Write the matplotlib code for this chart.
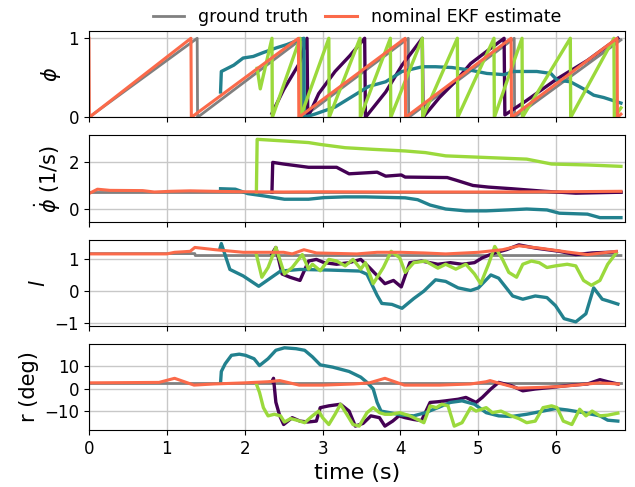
import matplotlib
matplotlib.use("Agg")
import matplotlib.pyplot as plt

# colours
c_gt = "#808080"
c_ekf = "#fb6a4a"
c_pur = "#440154"
c_teal = "#22818e"
c_grn = "#9bd93c"

# ---- phase phi ----
gt_phi_t = [0, 1.39, 1.395, 2.74, 2.745, 4.10, 4.105, 5.46, 5.465, 6.83]
gt_phi = [0, 1.0, 0.0, 1.0, 0.0, 1.0, 0.0, 1.0, 0.0, 0.98]
ekf_phi_t = [0, 0.005, 1.31, 1.315, 2.69, 2.695, 4.06, 4.065, 5.42, 5.425, 6.78, 6.785, 6.83]
ekf_phi = [1.0, 0.0, 1.0, 0.0, 1.0, 0.0, 1.0, 0.0, 1.0, 0.0, 1.0, 0.0, 0.04]
pur_phi_t = [2.35, 2.5, 2.7, 2.80, 2.81, 2.95, 3.16, 3.35, 3.54, 3.55, 3.81, 4.02, 4.28, 4.29,
             4.5, 4.7, 4.9, 5.1, 5.33, 5.34, 5.6, 6.0, 6.4, 6.79]
pur_phi = [0.05, 0.35, 0.68, 1.0, 0.0, 0.3, 0.58, 0.78, 1.0, 0.0, 0.32, 0.66, 1.0, 0.0,
           0.25, 0.45, 0.68, 0.83, 1.0, 0.03, 0.2, 0.48, 0.72, 1.0]
teal_phi_t = [1.69, 1.70, 1.86, 1.98, 2.11, 2.24, 2.41, 2.54, 2.67, 2.76, 2.765, 2.9, 3.16, 3.59,
              3.81, 4.02, 4.28, 4.45, 4.66, 4.88, 5.11, 5.33, 5.45, 5.75, 5.93, 6.01, 6.18,
              6.35, 6.48, 6.61, 6.83]
teal_phi = [0.32, 0.58, 0.66, 0.75, 0.77, 0.82, 0.88, 0.92, 0.97, 1.0, 0.0, 0.04, 0.13, 0.39,
            0.45, 0.58, 0.64, 0.64, 0.63, 0.60, 0.555, 0.54, 0.58, 0.58, 0.555, 0.47, 0.45,
            0.36, 0.28, 0.25, 0.18]
grn_phi_t = [2.16, 2.20, 2.35, 2.355, 2.71, 2.715, 3.08, 3.085, 3.48, 3.485, 3.87, 3.875,
             4.28, 4.285, 4.73, 4.735, 5.20, 5.205, 5.56, 5.565, 6.18, 6.185, 6.74, 6.745, 6.83]
grn_phi = [0.62, 0.36, 1.0, 0.0, 1.0, 0.0, 1.0, 0.0, 1.0, 0.0, 1.0, 0.0,
           1.0, 0.0, 1.0, 0.0, 1.0, 0.0, 1.0, 0.0, 1.0, 0.0, 1.0, 0.0, 0.12]

# ---- phase rate ----
gt_dphi_t = [0, 6.83]
gt_dphi = [0.72, 0.72]
ekf_dphi_t = [0, 0.11, 0.27, 0.69, 0.84, 1.05, 1.3, 1.6, 2.0, 2.5, 3.0, 4.0, 5.0, 6.0, 6.83]
ekf_dphi = [0.66, 0.85, 0.80, 0.79, 0.73, 0.76, 0.78, 0.76, 0.74, 0.73, 0.74, 0.73, 0.73, 0.74, 0.76]
pur_dphi_t = [2.35, 2.36, 2.5, 2.66, 2.82, 3.18, 3.34, 3.70, 3.81, 4.01, 4.06, 4.6, 4.72, 4.93,
              5.13, 5.43, 5.85, 6.25, 6.83]
pur_dphi = [0.73, 2.0, 1.93, 1.86, 1.79, 1.79, 1.51, 1.58, 1.41, 1.46, 1.37, 1.35, 1.23, 1.01,
            0.94, 0.87, 0.76, 0.68, 0.72]
teal_dphi_t = [1.69, 1.88, 2.04, 2.25, 2.51, 2.82, 3.02, 3.28, 3.55, 4.06, 4.22, 4.38, 4.58,
               4.84, 5.1, 5.37, 5.62, 5.88, 6.04, 6.4, 6.56, 6.83]
teal_dphi = [0.87, 0.85, 0.66, 0.56, 0.42, 0.42, 0.49, 0.52, 0.52, 0.48, 0.40, 0.17, 0.0,
             -0.08, -0.08, -0.04, 0.0, -0.04, -0.18, -0.22, -0.37, -0.37]
grn_dphi_t = [2.15, 2.16, 2.5, 2.82, 2.97, 3.29, 3.65, 4.06, 4.32, 4.58, 5.1, 5.62, 5.94, 6.4, 6.83]
grn_dphi = [0.73, 2.99, 2.92, 2.85, 2.77, 2.63, 2.56, 2.49, 2.42, 2.28, 2.21, 2.14, 1.93, 1.89, 1.83]

# ---- l ----
gt_l_t = [0, 1.36, 1.365, 6.83]
gt_l = [1.16, 1.16, 1.10, 1.10]
ekf_l_t = [0, 1.0, 1.1, 1.3, 1.36, 1.62, 1.98, 2.5, 2.61, 2.76, 2.92, 3.44, 3.7, 4.0, 4.3,
           4.58, 5.0, 5.31, 5.52, 5.78, 6.14, 6.4, 6.77]
ekf_l = [1.15, 1.15, 1.2, 1.23, 1.35, 1.28, 1.2, 1.2, 1.15, 1.28, 1.18, 1.15, 1.2, 1.2, 1.18,
         1.15, 1.2, 1.28, 1.4, 1.33, 1.21, 1.13, 1.23]
teal_l_t = [1.68, 1.70, 1.81, 1.98, 2.18, 2.46, 2.71, 3.1, 3.48, 3.57, 3.70, 3.76, 3.89, 4.02,
            4.17, 4.30, 4.45, 4.58, 4.74, 4.90, 5.0, 5.16, 5.26, 5.44, 5.57, 5.73, 5.88, 5.99,
            6.1, 6.25, 6.38, 6.48, 6.59, 6.66, 6.79]
teal_l = [1.3, 1.47, 0.67, 0.47, 0.15, 0.62, 0.67, 0.65, 0.62, 0.52, -0.13, -0.38, -0.41, -0.53,
          -0.23, 0.0, 0.35, 0.3, 0.1, 0.02, 0.1, 0.5, 0.4, -0.15, -0.25, -0.15, -0.2, -0.45,
          -0.85, -0.95, -0.7, 0.1, -0.25, -0.3, -0.4]
grn_l_t = [2.15, 2.22, 2.30, 2.40, 2.51, 2.61, 2.74, 2.82, 2.87, 2.97, 3.08, 3.18, 3.29, 3.39,
           3.49, 3.55, 3.65, 3.78, 3.88, 3.99, 4.06, 4.17, 4.32, 4.48, 4.58, 4.71, 4.84, 4.95,
           5.03, 5.13, 5.21, 5.31, 5.39, 5.49, 5.57, 5.68, 5.78, 5.88, 5.99, 6.14, 6.25, 6.35,
           6.45, 6.56, 6.66, 6.77]
grn_l = [1.13, 0.43, 0.73, 1.35, 0.53, 0.73, 1.13, 0.68, 0.83, 0.63, 0.98, 0.93, 0.78, 0.98,
         0.68, 0.88, 0.23, 0.73, 1.23, 1.03, 0.58, 0.88, 0.93, 0.71, 0.83, 0.68, 0.83, 0.53,
         0.23, 0.83, 1.38, 0.98, 0.58, 0.43, 0.83, 0.93, 0.88, 0.73, 0.78, 0.83, 0.78, 0.33,
         0.18, 0.33, 0.83, 1.18]
pur_l_t = [2.35, 2.40, 2.48, 2.58, 2.71, 2.82, 2.92, 3.02, 3.18, 3.34, 3.49, 3.60, 3.70, 3.80,
           3.91, 4.01, 4.12, 4.27, 4.48, 4.64, 4.79, 4.95, 5.05, 5.21, 5.36, 5.52, 5.73, 6.04,
           6.25, 6.46, 6.77]
pur_l = [1.15, 1.35, 0.53, 0.43, 0.33, 0.93, 0.98, 0.88, 0.83, 0.88, 0.98, 0.73, 0.48, 0.23,
         0.33, 0.13, 0.88, 0.93, 0.83, 0.88, 0.83, 0.88, 1.03, 1.18, 1.28, 1.43, 1.33, 1.23,
         1.13, 1.18, 1.21]

# ---- r (deg) ----
gt_r_t = [0, 6.83]
gt_r = [2.6, 2.6]
ekf_r_t = [0, 0.9, 1.1, 1.35, 1.6, 2.0, 2.3, 2.45, 2.7, 3.0, 3.4, 3.6, 3.8, 4.05, 4.5, 4.9,
           5.1, 5.15, 5.25, 5.5, 5.8, 6.1, 6.4, 6.55, 6.8]
ekf_r = [2.5, 2.7, 4.5, 1.5, 2.0, 2.5, 3.0, 3.5, 1.5, 1.5, 2.0, 2.5, 4.5, 1.5, 1.5, 2.0,
         3.0, 3.5, 2.5, 0.2, 0.5, 1.0, 2.0, 2.5, 2.0]
pur_r_t = [2.35, 2.37, 2.40, 2.45, 2.50, 2.61, 2.71, 2.81, 2.92, 2.97, 3.08, 3.23, 3.34, 3.42,
           3.52, 3.62, 3.73, 3.80, 3.90, 3.98, 4.06, 4.17, 4.27, 4.38, 4.48, 4.58, 4.74, 4.84,
           4.97, 5.05, 5.16, 5.26, 5.42, 5.57, 5.73, 5.94, 6.14, 6.40, 6.56, 6.66, 6.79]
pur_r = [3.0, 4.5, -6.0, -12.0, -15.8, -12.8, -14.3, -14.7, -14.3, -8.4, -7.6, -6.9, -9.9,
         -16.5, -15.3, -12.0, -12.8, -16.5, -14.3, -12.0, -12.8, -13.6, -14.1, -6.1, -5.8, -5.4,
         -4.7, -3.9, -6.1, -3.9, -0.2, 2.7, 1.3, -1.0, -0.2, 0.5, 1.3, 2.0, 3.9, 3.0, 2.0]
teal_r_t = [1.69, 1.70, 1.75, 1.83, 1.93, 2.01, 2.12, 2.19, 2.30, 2.40, 2.51, 2.66, 2.77, 2.87,
            2.97, 3.13, 3.34, 3.49, 3.57, 3.65, 3.70, 3.75, 3.86, 4.01, 4.17, 4.32, 4.48, 4.64,
            4.79, 4.95, 5.10, 5.26, 5.42, 5.62, 5.83, 5.99, 6.14, 6.35, 6.56, 6.66, 6.79]
teal_r = [2.5, 7.5, 10.9, 14.6, 15.1, 14.6, 13.1, 10.1, 13.1, 16.8, 17.9, 17.5, 16.8, 13.9,
          10.4, 9.4, 7.5, 5.0, 2.7, -0.2, -6.1, -9.9, -10.6, -11.6, -12.0, -10.6, -8.4, -6.1,
          -5.4, -6.9, -10.6, -12.0, -12.3, -11.3, -9.9, -8.8, -9.4, -10.6, -12.0, -13.9, -14.3]
grn_r_t = [2.15, 2.19, 2.24, 2.30, 2.38, 2.46, 2.51, 2.59, 2.67, 2.77, 2.87, 2.95, 3.00, 3.08,
           3.16, 3.23, 3.31, 3.39, 3.47, 3.57, 3.65, 3.73, 3.80, 3.88, 3.99, 4.12, 4.22, 4.30,
           4.38, 4.46, 4.53, 4.61, 4.69, 4.79, 4.90, 4.97, 5.10, 5.18, 5.29, 5.42, 5.52, 5.62,
           5.73, 5.83, 5.94, 6.01, 6.09, 6.20, 6.30, 6.38, 6.46, 6.56, 6.66, 6.79]
grn_r = [2.0, -1.7, -8.4, -12.0, -11.3, -12.0, -14.7, -13.2, -13.9, -15.0, -12.0, -9.9, -12.8,
         -15.8, -11.3, -6.9, -11.3, -15.8, -16.5, -10.6, -8.4, -10.6, -11.3, -11.3, -10.6,
         -12.0, -13.6, -15.0, -7.6, -8.4, -6.9, -7.6, -16.5, -15.0, -8.4, -9.9, -8.4, -10.6,
         -9.9, -12.0, -13.2, -15.0, -14.3, -8.4, -7.6, -8.4, -14.3, -15.8, -9.1, -12.0, -9.9,
         -12.0, -11.7, -10.8]

panels = [
    (r"$\phi$", gt_phi_t, gt_phi, ekf_phi_t, ekf_phi, pur_phi_t, pur_phi,
     teal_phi_t, teal_phi, grn_phi_t, grn_phi),
    (r"$\dot{\phi}$ (1/s)", gt_dphi_t, gt_dphi, ekf_dphi_t, ekf_dphi, pur_dphi_t, pur_dphi,
     teal_dphi_t, teal_dphi, grn_dphi_t, grn_dphi),
    (r"$l$", gt_l_t, gt_l, ekf_l_t, ekf_l, pur_l_t, pur_l, teal_l_t, teal_l, grn_l_t, grn_l),
    ("r (deg)", gt_r_t, gt_r, ekf_r_t, ekf_r, pur_r_t, pur_r, teal_r_t, teal_r, grn_r_t, grn_r),
]

fig, axes = plt.subplots(4, 1, sharex=True, figsize=(6.35, 4.87), dpi=100)
fig.subplots_adjust(left=0.14, right=0.984, top=0.936, bottom=0.117, hspace=0.21)

for ax, p in zip(axes, panels):
    lab, gtt, gty, et, ey, pt, py, tt, ty, gt2, gy = p
    ax.plot(gtt, gty, color=c_gt, lw=2, label="ground truth")
    ax.plot(pt, py, color=c_pur, lw=2.4)
    ax.plot(tt, ty, color=c_teal, lw=2.4)
    ax.plot(gt2, gy, color=c_grn, lw=2.4)
    ax.plot(et, ey, color=c_ekf, lw=2.2, label="nominal EKF estimate")
    ax.set_ylabel(lab, fontsize=15)
    ax.grid(True, color="#c8c8c8", lw=1)
    ax.tick_params(labelsize=12)
    ax.set_axisbelow(True)

axes[0].set_ylim(0, 1.09)
axes[0].set_yticks([0, 1])
axes[1].set_yticks([0, 2])
axes[2].set_yticks([-1, 0, 1])
axes[3].set_yticks([-10, 0, 10])
axes[3].set_xlim(0, 6.88)
axes[3].set_xlabel("time (s)", fontsize=16)
axes[0].legend(loc="lower center", bbox_to_anchor=(0.5, 0.98), ncol=2, frameon=False,
               fontsize=12.5, handlelength=1.8, columnspacing=1.0, borderaxespad=0.0)

plt.savefig("out.png")
